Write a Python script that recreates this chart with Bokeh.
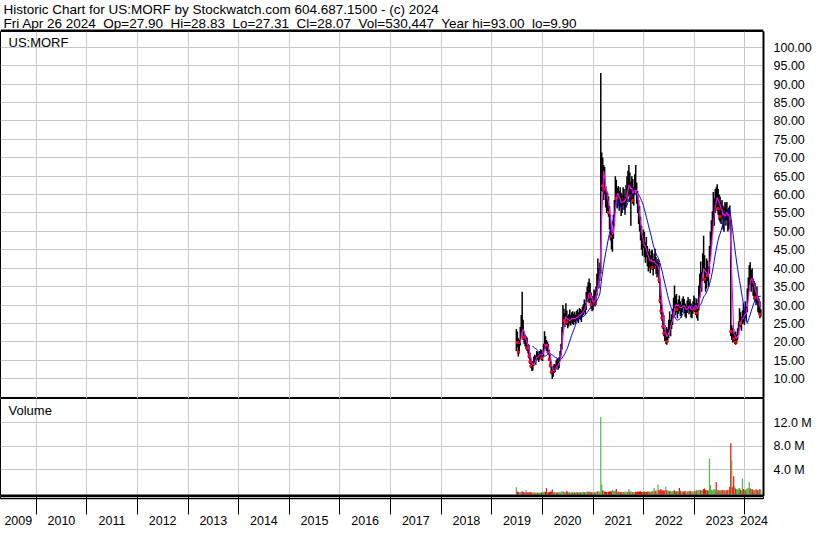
import numpy as np
import pandas as pd
from bokeh.plotting import figure
from bokeh.layouts import column
from bokeh.models import (Range1d, FixedTicker, Grid, LinearAxis, PrintfTickFormatter,
                          Label, BoxAnnotation, ColumnDataSource)
from bokeh.embed import file_html
from bokeh.resources import INLINE

# ------------------------------------------------------------------ data
symbol = "US:MORF"
header_title = "Historic Chart for US:MORF by Stockwatch.com 604.687.1500 - (c) 2024"
# fields of the quote line (shown with two spaces between them)
header_fields = ["Fri Apr 26 2024", "Op=27.90", "Hi=28.83", "Lo=27.31", "Cl=28.07",
                 "Vol=530,447", "Year hi=93.00", "lo=9.90"]
volume_title = "Volume"

first_week = "2019-06-28"          # weekly bars, one per week
view_start = "2009-04-19"
view_end = "2024-05-15"

week_high = [
    23.5, 22.8, 21.0, 20.5, 24.0, 27.3, 33.6, 26.0, 22.5, 21.9,
    21.5, 21.2, 19.5, 19.2, 17.0, 15.5, 14.5, 14.8, 16.0, 16.5,
    16.2, 17.5, 17.2, 16.8, 17.5, 18.0, 17.8, 17.0, 19.5, 22.9,
    21.5, 20.5, 20.0, 19.5, 17.8, 16.5, 14.5, 13.0, 13.5, 14.0,
    13.8, 15.0, 15.5, 15.2, 15.8, 17.5, 19.5, 24.0, 30.0, 29.0,
    27.8, 30.5, 28.5, 27.0, 27.5, 28.8, 27.2, 28.0, 28.3, 27.6,
    28.2, 27.4, 28.4, 28.8, 28.0, 29.2, 28.9, 28.5, 29.5, 30.2,
    31.5, 30.5, 33.5, 35.0, 36.2, 37.2, 36.0, 33.4, 31.8, 32.5,
    34.2, 33.8, 35.0, 38.5, 42.6, 40.0, 41.5, 93.0, 71.4, 70.0,
    68.0, 67.5, 62.3, 61.0, 60.5, 59.5, 56.9, 54.5, 51.0, 50.0,
    54.5, 58.5, 65.0, 64.0, 61.8, 62.3, 61.0, 62.0, 60.5, 59.8,
    62.0, 61.5, 59.5, 62.5, 65.0, 66.5, 68.0, 66.0, 63.5, 65.0,
    64.2, 62.0, 65.5, 68.0, 63.3, 61.0, 58.5, 56.9, 54.0, 51.5,
    49.5, 50.5, 49.8, 47.0, 48.5, 46.0, 44.5, 45.3, 43.5, 44.8,
    45.0, 42.5, 44.0, 45.3, 43.0, 41.8, 42.5, 41.5, 36.4, 32.5,
    30.0, 28.0, 27.2, 24.5, 23.0, 24.0, 23.5, 26.0, 28.3, 26.0,
    27.5, 29.0, 32.0, 35.3, 32.6, 33.0, 30.5, 31.5, 32.6, 31.0,
    30.2, 31.8, 32.4, 31.6, 30.4, 29.6, 31.2, 32.2, 31.0, 31.6,
    30.4, 29.2, 31.0, 32.6, 32.0, 30.5, 31.8, 30.5, 35.3, 38.5,
    41.8, 39.0, 44.0, 48.8, 43.5, 40.0, 42.6, 42.0, 40.5, 46.0,
    50.0, 53.0, 55.5, 60.7, 59.0, 61.5, 62.0, 62.8, 61.5, 60.0,
    59.5, 58.0, 58.5, 57.0, 56.5, 58.0, 57.5, 58.0, 56.0, 56.5,
    57.0, 53.0, 24.5, 23.7, 23.5, 22.5, 22.8, 22.0, 23.7, 25.5,
    29.1, 28.0, 26.8, 28.5, 30.5, 29.0, 31.0, 29.6, 34.5, 37.5,
    40.8, 41.6, 39.5, 40.0, 37.2, 36.5, 36.0, 33.5, 35.0, 32.5,
    31.8, 31.0, 28.83,
]
week_low = [
    17.5, 18.5, 16.0, 16.8, 19.0, 21.5, 23.0, 20.5, 19.5, 18.8,
    18.0, 17.5, 16.8, 15.5, 14.0, 12.8, 12.1, 12.3, 13.5, 14.2,
    13.8, 15.0, 15.2, 14.5, 15.2, 15.8, 15.0, 14.8, 16.0, 17.8,
    18.2, 17.5, 17.0, 16.5, 14.8, 13.0, 11.2, 9.9, 10.5, 11.5,
    11.8, 12.5, 13.2, 12.4, 12.8, 14.8, 16.5, 18.0, 22.5, 24.5,
    24.0, 25.0, 24.5, 23.7, 24.2, 25.0, 24.4, 25.2, 24.8, 24.6,
    25.4, 24.9, 25.8, 25.6, 25.1, 26.2, 26.0, 25.4, 26.8, 27.2,
    28.0, 27.4, 28.6, 30.8, 31.0, 30.5, 31.5, 29.0, 28.3, 28.6,
    30.4, 29.6, 30.0, 32.5, 35.0, 34.5, 36.5, 38.5, 61.0, 60.7,
    58.5, 60.0, 56.5, 55.0, 55.5, 54.0, 50.5, 47.5, 45.2, 44.5,
    48.0, 51.5, 56.0, 57.5, 56.2, 57.0, 55.6, 56.8, 54.2, 55.0,
    57.0, 55.8, 54.5, 56.5, 58.0, 60.5, 59.5, 58.0, 51.5, 58.5,
    57.5, 57.0, 59.8, 61.0, 57.5, 55.0, 52.0, 50.0, 47.5, 45.0,
    43.4, 45.5, 43.0, 41.5, 43.0, 40.5, 39.1, 40.2, 38.6, 40.0,
    39.5, 38.0, 39.8, 40.5, 38.4, 37.5, 38.2, 36.0, 30.5, 27.5,
    25.7, 23.5, 21.5, 20.2, 19.5, 19.2, 19.8, 21.0, 23.0, 21.5,
    23.5, 24.6, 26.5, 28.5, 27.2, 28.0, 26.4, 27.6, 28.4, 27.0,
    26.6, 28.0, 29.2, 27.8, 26.8, 26.4, 27.8, 28.8, 27.5, 28.2,
    26.6, 26.4, 27.6, 28.4, 28.0, 27.2, 26.4, 25.7, 28.5, 32.0,
    34.5, 33.6, 36.5, 40.0, 36.0, 33.6, 34.5, 36.5, 35.0, 38.5,
    42.6, 46.0, 49.0, 52.0, 51.5, 55.0, 56.5, 55.5, 54.5, 53.0,
    52.5, 52.0, 53.5, 50.5, 49.9, 53.0, 51.5, 53.0, 50.0, 50.5,
    51.5, 21.5, 20.5, 19.8, 20.0, 19.4, 19.2, 19.5, 20.4, 21.9,
    23.5, 24.0, 23.0, 24.8, 25.2, 24.6, 26.5, 25.5, 28.0, 32.5,
    34.0, 35.5, 33.6, 35.0, 32.5, 31.5, 31.0, 30.0, 30.5, 28.0,
    27.5, 26.4, 26.8,
]
week_close = [
    21.5, 19.8, 17.2, 19.5, 22.6, 25.0, 24.5, 21.2, 20.8, 19.6,
    20.2, 18.3, 17.6, 16.2, 14.6, 13.4, 12.9, 14.1, 15.4, 14.8,
    15.9, 16.8, 15.8, 16.2, 16.9, 17.2, 15.6, 16.4, 19.0, 20.6,
    19.1, 18.4, 18.8, 17.0, 15.2, 13.6, 11.8, 11.2, 12.6, 12.2,
    13.2, 14.4, 13.8, 13.0, 15.2, 16.9, 18.8, 23.2, 27.6, 25.8,
    26.9, 27.2, 25.4, 25.0, 26.6, 25.9, 26.2, 27.0, 25.6, 26.8,
    26.1, 26.5, 27.3, 26.4, 27.5, 28.1, 26.9, 27.8, 28.4, 29.6,
    28.8, 29.9, 32.4, 33.6, 31.8, 35.1, 32.2, 30.1, 29.4, 31.6,
    32.8, 30.5, 33.9, 37.4, 36.2, 38.8, 39.5, 68.5, 69.0, 62.4,
    65.8, 61.5, 58.9, 57.6, 59.2, 55.1, 52.0, 48.6, 47.2, 49.1,
    53.6, 57.8, 63.5, 59.0, 60.4, 58.2, 59.5, 57.4, 56.0, 58.8,
    60.1, 57.0, 58.2, 61.0, 63.4, 61.8, 64.2, 59.6, 60.8, 62.5,
    58.4, 60.6, 63.2, 62.0, 58.6, 56.0, 53.2, 51.4, 49.0, 46.2,
    47.8, 46.5, 44.2, 45.6, 43.8, 41.6, 42.8, 41.0, 42.2, 43.4,
    40.2, 41.5, 42.6, 41.2, 39.4, 40.6, 41.2, 36.8, 31.2, 28.4,
    26.5, 24.2, 22.3, 21.0, 22.4, 20.1, 22.8, 24.6, 23.8, 25.2,
    26.4, 28.2, 30.8, 29.6, 31.2, 28.8, 29.4, 30.6, 29.0, 28.2,
    29.5, 30.9, 30.1, 28.6, 27.6, 28.9, 30.4, 29.3, 30.0, 28.7,
    27.4, 28.6, 29.8, 31.2, 28.9, 29.9, 27.8, 29.4, 33.8, 36.9,
    35.6, 37.8, 42.5, 41.2, 37.0, 35.4, 41.8, 38.0, 39.6, 44.8,
    47.0, 50.5, 53.0, 55.5, 57.9, 59.8, 58.4, 60.6, 56.2, 57.5,
    54.0, 56.6, 55.0, 51.8, 55.6, 54.2, 56.8, 54.0, 52.4, 55.2,
    52.6, 22.8, 23.1, 22.6, 20.8, 21.6, 19.9, 21.2, 23.0, 24.6,
    27.2, 25.0, 26.2, 27.6, 26.4, 28.4, 27.3, 29.0, 33.6, 35.8,
    38.6, 36.4, 37.8, 35.6, 34.4, 35.2, 32.0, 32.8, 31.2, 29.4,
    30.6, 27.4, 28.07,
]
# largest daily volume in each week, millions of shares
week_volume_m = [
    1.0, 0.3, 0.2, 0.15, 0.2, 0.25, 0.35, 0.2, 0.12, 0.1,
    0.6, 0.15, 0.1, 0.12, 0.2, 0.15, 0.1, 0.12, 0.1, 0.08,
    0.1, 0.12, 0.08, 0.1, 0.09, 0.12, 0.1, 0.15, 0.2, 0.3,
    0.2, 0.85, 0.15, 0.12, 0.2, 0.25, 0.3, 0.65, 0.2, 0.15,
    0.12, 0.1, 0.1, 0.12, 0.15, 0.2, 0.25, 0.3, 0.35, 0.2,
    0.15, 0.2, 0.4, 0.15, 0.12, 0.1, 0.12, 0.15, 0.1, 0.12,
    0.1, 0.12, 0.15, 0.1, 0.12, 0.15, 0.12, 0.1, 0.15, 0.2,
    0.15, 0.18, 0.25, 0.3, 0.2, 0.35, 0.2, 0.15, 0.12, 0.2,
    0.18, 0.15, 0.25, 0.3, 0.35, 0.2, 0.3, 13.0, 1.5, 0.5,
    0.4, 0.3, 0.25, 0.2, 0.2, 0.25, 0.3, 0.35, 0.3, 0.6,
    0.4, 0.35, 0.45, 0.7, 0.3, 0.25, 0.2, 0.22, 0.25, 0.18,
    0.2, 0.15, 0.3, 0.22, 0.25, 0.2, 0.7, 0.3, 0.35, 0.2,
    0.18, 0.2, 0.22, 0.25, 0.2, 0.3, 0.25, 0.3, 0.35, 0.2,
    0.25, 0.2, 0.3, 0.25, 0.22, 0.3, 0.35, 0.25, 0.2, 0.3,
    0.35, 0.4, 0.9, 0.4, 0.35, 0.5, 1.5, 0.6, 0.5, 0.7,
    0.45, 0.5, 0.4, 0.45, 1.1, 0.5, 0.45, 0.4, 0.35, 0.4,
    0.3, 0.35, 0.4, 0.5, 0.35, 0.3, 0.35, 0.3, 0.9, 0.4,
    0.3, 0.35, 0.25, 0.3, 0.4, 0.3, 0.25, 0.35, 0.3, 0.4,
    0.3, 0.35, 0.3, 0.25, 0.4, 0.35, 0.5, 0.4, 0.55, 0.6,
    0.5, 0.45, 0.6, 0.7, 0.8, 0.5, 0.6, 0.5, 0.45, 5.9,
    1.4, 0.6, 0.5, 0.6, 0.7, 0.5, 1.9, 0.6, 0.5, 0.45,
    0.5, 0.4, 0.5, 0.6, 0.45, 0.5, 0.4, 0.55, 0.5, 0.6,
    1.1, 8.5, 5.6, 1.0, 2.9, 1.2, 0.8, 0.7, 0.6, 0.8,
    0.9, 0.6, 0.5, 2.5, 0.7, 0.6, 0.5, 0.7, 0.8, 0.9,
    1.9, 0.8, 0.6, 0.7, 0.5, 0.6, 0.5, 0.7, 0.6, 0.5,
    0.6, 0.7, 0.53,
]
year_labels = ["2009", "2010", "2011", "2012", "2013", "2014", "2015", "2016",
               "2017", "2018", "2019", "2020", "2021", "2022", "2023", "2024"]
price_ticks = [10, 15, 20, 25, 30, 35, 40, 45, 50, 55, 60, 65, 70, 75, 80, 85, 90, 95, 100]
volume_ticks = [4, 8, 12]

# ------------------------------------------------------------------ layout constants
W = 814
HEADER_H, PRICE_H, VOL_H, AXIS_H = 31, 367, 98, 31
LABEL_ROW = 16
RIGHT_W = 48
FRAME_W = W - RIGHT_W
FONT = "Liberation Sans"
FS = "12.5px"
GRID = "#c8c8c8"
DAY_MS = 86400000
GAP = "\u00a0 "   # two visible spaces in SVG text


def ms(d):
    return int(pd.Timestamp(d).value // 10**6)


n = len(week_close)
dates = pd.date_range(first_week, periods=n, freq="7D")
df = pd.DataFrame({"date": dates, "high": week_high, "low": week_low,
                   "close": week_close, "vol": week_volume_m})
prev = df["close"].shift(1).fillna(df["close"])
df["vcolor"] = np.where(df["close"] >= prev, "#4cb848", "#ff0000")
df["ma_short"] = df["close"].rolling(4).mean()
df["ma_long"] = df["close"].rolling(18).mean()
src = ColumnDataSource(df)
red_src = ColumnDataSource(df[df["close"] < prev * 0.94])

x_start, x_end = ms(view_start), ms(view_end)
xr = Range1d(x_start, x_end)
year_bounds = [ms(f"{y}-01-01") for y in range(int(year_labels[1]), int(year_labels[-1]) + 1)]
label_pos = []
for lab in year_labels:
    a = max(x_start, ms(f"{lab}-01-01"))
    b = min(x_end, ms(f"{int(lab) + 1}-01-01"))
    label_pos.append(int((a + b) // 2))


def make_fig(h, yr):
    f = figure(width=W, height=h, x_range=xr, y_range=yr,
               x_axis_location=None, y_axis_location=None,
               toolbar_location=None, output_backend="svg",
               min_border=0, min_border_left=0, min_border_right=RIGHT_W,
               min_border_top=0, min_border_bottom=0)
    f.grid.visible = False
    f.outline_line_color = "black"
    f.outline_line_width = 1
    f.background_fill_color = "white"
    f.border_fill_color = "white"
    return f


def black_box(f, **kw):
    f.add_layout(BoxAnnotation(fill_color="black", fill_alpha=1.0, line_color=None, **kw))


def right_axis(f, ticks, fmt):
    ax = LinearAxis(ticker=FixedTicker(ticks=ticks), formatter=PrintfTickFormatter(format=fmt))
    ax.major_tick_line_color = None
    ax.minor_tick_line_color = None
    ax.axis_line_color = "black"
    ax.axis_line_width = 2
    ax.major_label_standoff = 4
    ax.major_label_text_font = FONT
    ax.major_label_text_font_size = FS
    ax.major_label_text_color = "black"
    f.add_layout(ax, "right")


# ------------------------------------------------------------------ header
hdr = figure(width=W, height=HEADER_H, x_range=Range1d(0, 1), y_range=Range1d(0, 1),
             x_axis_location=None, y_axis_location=None, toolbar_location=None,
             output_backend="svg", min_border=0)
hdr.grid.visible = False
hdr.outline_line_color = None
hdr.add_layout(Label(x=3, y=HEADER_H - 8.5, x_units="screen", y_units="screen",
                     text=header_title, text_baseline="alphabetic",
                     text_font=FONT, text_font_size="13.5px", text_color="black"))
hdr.add_layout(Label(x=3, y=HEADER_H - 22.7, x_units="screen", y_units="screen",
                     text=GAP.join(header_fields), text_baseline="alphabetic",
                     text_font=FONT, text_font_size="13.5px", text_color="black"))
black_box(hdr, bottom=0, top=2, bottom_units="screen", top_units="screen")

# ------------------------------------------------------------------ price panel
pp = make_fig(PRICE_H, Range1d(4.6, 104.3))
pp.add_layout(Grid(dimension=0, ticker=FixedTicker(ticks=year_bounds), grid_line_color=GRID))
pp.add_layout(Grid(dimension=1, ticker=FixedTicker(ticks=price_ticks), grid_line_color=GRID))
pp.segment(x0="date", y0="low", x1="date", y1="high", source=src,
           line_color="black", line_width=1.5)
pp.scatter(x="date", y="close", source=red_src, marker="square", size=2,
           fill_color="#ff0000", line_color="#ff0000")
pp.line(x="date", y="ma_long", source=src, line_color="#0000ff", line_width=1)
pp.line(x="date", y="ma_short", source=src, line_color="#ff00ff", line_width=1.1)
right_axis(pp, price_ticks, "%.2f")
pp.add_layout(Label(x=8, y=PRICE_H - 3, x_units="screen", y_units="screen", text=symbol,
                    text_baseline="top", text_font=FONT, text_font_size="13px",
                    text_color="black"))
black_box(pp, left=FRAME_W, right=W, left_units="canvas", right_units="canvas",
          bottom=0, top=1, bottom_units="screen", top_units="screen")
black_box(pp, left=W - 2, right=W, left_units="canvas", right_units="canvas")

# ------------------------------------------------------------------ volume panel
vol_range = Range1d(-0.56, 16.13)
bar_base = -0.2
vp = make_fig(VOL_H, vol_range)
vp.add_layout(Grid(dimension=0, ticker=FixedTicker(ticks=year_bounds), grid_line_color=GRID))
vp.add_layout(Grid(dimension=1, ticker=FixedTicker(ticks=volume_ticks), grid_line_color=GRID))
vp.vbar(x="date", top="vol", bottom=bar_base, width=8.5 * DAY_MS, source=src,
        fill_color="vcolor", line_color=None)
right_axis(vp, volume_ticks, "%.1f M")
vp.add_layout(Label(x=8, y=VOL_H - 4, x_units="screen", y_units="screen", text=volume_title,
                    text_baseline="top", text_font=FONT, text_font_size="13px",
                    text_color="black"))
black_box(vp, bottom=0, top=2, bottom_units="screen", top_units="screen")
black_box(vp, left=FRAME_W, right=W, left_units="canvas", right_units="canvas",
          bottom=VOL_H - 1, top=VOL_H, bottom_units="screen", top_units="screen")
black_box(vp, left=W - 2, right=W, left_units="canvas", right_units="canvas")

# ------------------------------------------------------------------ year strip
bp = figure(width=W, height=AXIS_H, x_range=xr, y_range=Range1d(0, 1),
            x_axis_location=None, y_axis_location=None, toolbar_location=None,
            output_backend="svg", min_border=0, min_border_right=RIGHT_W,
            min_border_bottom=LABEL_ROW)
bp.grid.visible = False
bp.outline_line_color = "black"
bp.add_layout(Grid(dimension=0, ticker=FixedTicker(ticks=year_bounds), grid_line_color="black",
                   grid_line_width=1))
xa = LinearAxis(ticker=FixedTicker(ticks=label_pos, minor_ticks=year_bounds))
xa.major_label_overrides = {p: lab for p, lab in zip(label_pos, year_labels)}
xa.major_tick_line_color = None
xa.minor_tick_line_color = "black"
xa.minor_tick_in = 0
xa.minor_tick_out = LABEL_ROW
xa.axis_line_color = "black"
xa.axis_line_width = 1.5
xa.major_label_standoff = 1
xa.major_label_text_font = FONT
xa.major_label_text_font_size = FS
xa.major_label_text_color = "black"
bp.add_layout(xa, "below")
black_box(bp, left=FRAME_W - 1, right=FRAME_W + 1, left_units="canvas", right_units="canvas",
          bottom=-LABEL_ROW, bottom_units="screen")
black_box(bp, right=W, right_units="canvas", bottom=-LABEL_ROW, top=-LABEL_ROW + 1.5,
          bottom_units="screen", top_units="screen")
black_box(bp, left=W - 2, right=W, left_units="canvas", right_units="canvas",
          bottom=-LABEL_ROW, bottom_units="screen")

page = column(hdr, pp, vp, bp, spacing=0)
open("out.html", "w").write(file_html(page, INLINE))
